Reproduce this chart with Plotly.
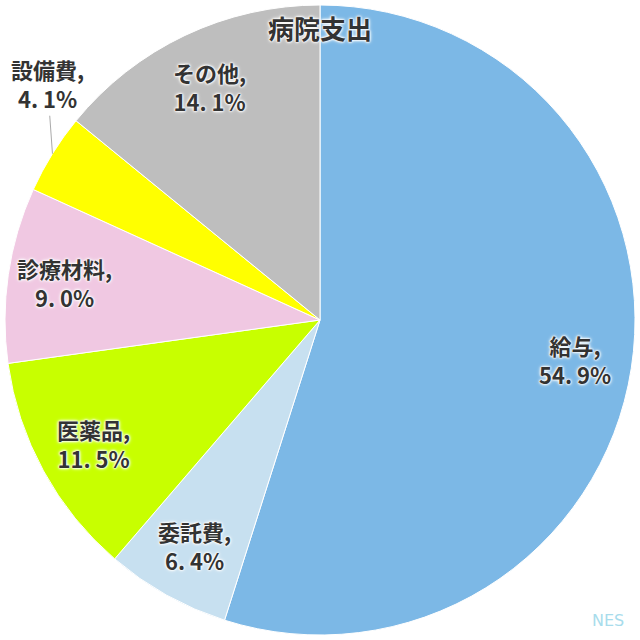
import math
import plotly.graph_objects as go

labels = ["給与", "委託費", "医薬品", "診療材料", "設備費", "その他"]
values = [54.9, 6.4, 11.5, 9.0, 4.1, 14.1]
colors = ["#7cb8e6", "#c7e0f0", "#c8ff00", "#f0c8e2", "#ffff00", "#bebebe"]
title_text = "病院支出"
watermark = "NES"

TXT = "#333333"
GLOW = "0 0 2px #fff, 0 0 2px #fff, 0 0 3px #fff, 0 0 4px #fff"
FONT = "Noto Sans CJK JP"

fig = go.Figure(go.Pie(
    labels=labels, values=values, sort=False, direction="clockwise",
    marker=dict(colors=colors, line=dict(color="white", width=1)),
    textinfo="none", hoverinfo="label+percent", showlegend=False,
))

def label_html(name, v):
    pct = f"{v:.1f}".replace(".", ". ") + "%"
    return f"{name},<br>{pct}"

total = sum(values)
cum = 0.0
annotations = []
for name, v in zip(labels, values):
    mid = (cum + v / 2) / total * 2 * math.pi
    cum += v
    if v < 5:
        x = 0.5 + 0.5 * math.sin(mid)
        y = 0.5 + 0.5 * math.cos(mid)
        annotations.append(dict(
            x=x, y=y, xref="paper", yref="paper", text=label_html(name, v),
            showarrow=True, arrowhead=0, arrowwidth=1, arrowcolor="#aaaaaa",
            ax=-5, ay=-70, standoff=0,
            font=dict(family=FONT, size=22, color=TXT, shadow=GLOW, weight=700),
        ))
    else:
        fr = 0.82
        x = 0.5 + 0.5 * fr * math.sin(mid)
        y = 0.5 + 0.5 * fr * math.cos(mid)
        annotations.append(dict(
            x=x, y=y, xref="paper", yref="paper", text=label_html(name, v),
            showarrow=False, xanchor="center", yanchor="middle",
            font=dict(family=FONT, size=22, color=TXT, shadow=GLOW, weight=700),
        ))

annotations.append(dict(
    x=0.5, y=0.965, xref="paper", yref="paper", text=title_text, showarrow=False,
    xanchor="center", yanchor="middle",
    font=dict(family=FONT, size=26, color=TXT, shadow=GLOW, weight=700),
))
annotations.append(dict(
    x=0.985, y=0.005, xref="paper", yref="paper", text=watermark, showarrow=False,
    xanchor="right", yanchor="bottom",
    font=dict(family="DejaVu Sans", size=16, color="#a8dcec"),
))

fig.update_layout(
    width=640, height=640,
    margin=dict(l=5, r=5, t=5, b=5),
    paper_bgcolor="white", plot_bgcolor="white",
    annotations=annotations,
)

fig.write_html("out.html", config={"displayModeBar": False},
               post_script="document.body.style.margin='0';")
